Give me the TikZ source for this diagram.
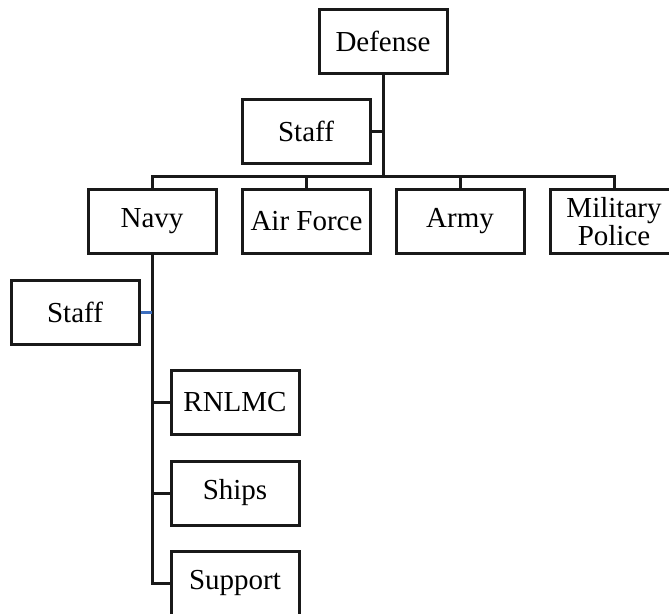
\documentclass[tikz,border=0pt]{standalone}
\usepackage{fontspec}
\setmainfont{Liberation Serif}
\definecolor{linkblue}{RGB}{60,110,190}
\begin{document}
\begin{tikzpicture}[x=1pt,y=1pt,
  box/.style={draw=black!90, line width=3pt, minimum width=128pt, minimum height=64pt, inner sep=0pt,
    font=\fontsize{29}{28}\selectfont, align=center, fill=white},
  conn/.style={draw=black!90, line width=3pt}]
\useasboundingbox (0,0) rectangle (669,-613);
\node[box] (defense) at (383,-41) {Defense};
\node[box] (staffa) at (306,-131) {Staff};
\node[box] (navy) at (152,-221.5) {Navy};
\node[box] (airforce) at (306.5,-221.5) {Air Force};
\node[box] (army) at (460,-221.5) {Army};
\node[box] (mp) at (614,-221.5) {Military\\Police};
\node[box] (staffb) at (75,-312) {Staff};
\node[box] (rnlmc) at (235,-402.5) {RNLMC};
\node[box] (ships) at (235,-493) {Ships};
\node[box] (support) at (235,-583) {Support};
\coordinate (bus) at (383,-176);
\draw[conn] (defense.south) -- (bus);
\draw[conn] (staffa.east) -- (staffa.east -| defense.south);
\draw[conn] (navy.north) |- (bus) -| (mp.north);
\draw[conn] (airforce.north) -- (airforce.north |- bus);
\draw[conn] (army.north) -- (army.north |- bus);
\draw[conn] (navy.south) |- (support.west);
\draw[conn] (rnlmc.west) -- (rnlmc.west -| navy.south);
\draw[conn] (ships.west) -- (ships.west -| navy.south);
\draw[draw=linkblue, line width=3pt] (staffb.east) -- (staffb.east -| navy.south);
\end{tikzpicture}
\end{document}
